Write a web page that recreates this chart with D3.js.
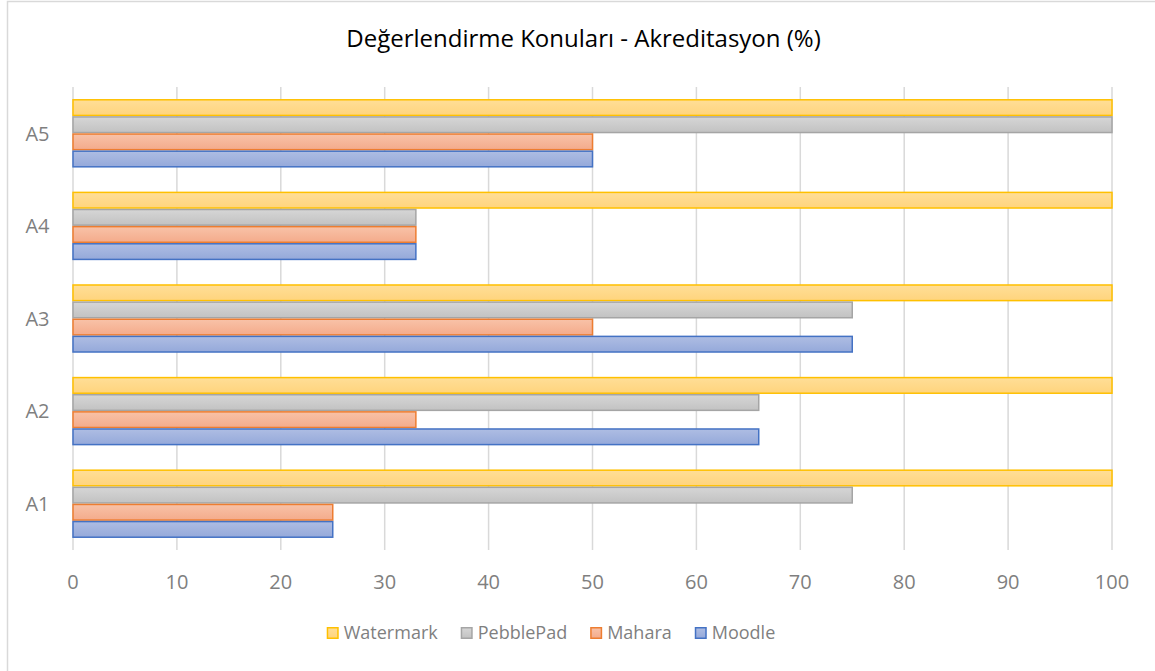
<!DOCTYPE html>
<html>
<head>
<meta charset="utf-8">
<script src="https://cdn.jsdelivr.net/npm/d3@7"></script>
<style>
  html, body { margin: 0; padding: 0; background: #fff; }
  svg { display: block; font-family: "Open Sans", "Noto Sans", sans-serif; }
</style>
</head>
<body>
<div id="chart"></div>
<script>
// Chart data
const categories = ['A1', 'A2', 'A3', 'A4', 'A5'];
const seriesNames = ['Watermark', 'PebblePad', 'Mahara', 'Moodle'];
const watermark = [100, 100, 100, 100, 100];
const pebblePad = [75, 66, 75, 33, 100];
const mahara = [25, 33, 50, 33, 50];
const moodle = [25, 66, 75, 33, 50];
const xTicks = [0, 10, 20, 30, 40, 50, 60, 70, 80, 90, 100];

const seriesValues = [watermark, pebblePad, mahara, moodle];
const palette = [
    { stroke: '#FFC000', top: '#FFDE97', bottom: '#FFD47D' },
    { stroke: '#A5A5A5', top: '#D6D6D6', bottom: '#C2C2C2' },
    { stroke: '#ED7D31', top: '#F8C2A8', bottom: '#F4AB8B' },
    { stroke: '#4472C4', top: '#AEBDE3', bottom: '#95A9DA' }
];

const width = 1155, height = 671;
const margin = { top: 87, right: 43, bottom: 121, left: 73 };
const innerW = width - margin.left - margin.right;
const innerH = height - margin.top - margin.bottom;

const svg = d3.select('#chart').append('svg')
    .attr('width', width)
    .attr('height', height);

// Gradients for the bars
const defs = svg.append('defs');
palette.forEach((p, i) => {
    const g = defs.append('linearGradient')
        .attr('id', 'grad' + i)
        .attr('x1', 0).attr('y1', 0).attr('x2', 0).attr('y2', 1);
    g.append('stop').attr('offset', '0%').attr('stop-color', p.top);
    g.append('stop').attr('offset', '100%').attr('stop-color', p.bottom);
});

// Chart frame (runs off the right and bottom edges)
svg.append('rect')
    .attr('x', 7.5).attr('y', 1.5)
    .attr('width', width + 20).attr('height', height + 20)
    .attr('fill', 'none')
    .attr('stroke', '#D9D9D9')
    .attr('stroke-width', 1.5);

// Title
svg.append('text')
    .attr('x', 583.5)
    .attr('y', 47)
    .attr('text-anchor', 'middle')
    .attr('font-size', 24)
    .attr('fill', '#000')
    .text('Değerlendirme Konuları - Akreditasyon (%)');

const x = d3.scaleLinear().domain([0, 100]).range([0, innerW]);
const y = d3.scaleBand()
    .domain(categories.slice().reverse())
    .range([0, innerH])
    .paddingInner(0.26)
    .paddingOuter(0.13);
const ySub = d3.scaleBand()
    .domain(seriesNames)
    .range([0, y.bandwidth()]);

const g = svg.append('g').attr('transform', `translate(${margin.left},${margin.top})`);

// Vertical gridlines
g.append('g')
    .selectAll('line')
    .data(xTicks)
    .join('line')
    .attr('x1', d => x(d)).attr('x2', d => x(d))
    .attr('y1', 0).attr('y2', innerH)
    .attr('stroke', '#D9D9D9')
    .attr('stroke-width', 1.5);

// Bars
const groups = g.append('g')
    .selectAll('g')
    .data(categories)
    .join('g')
    .attr('transform', d => `translate(0,${y(d)})`);

groups.selectAll('rect')
    .data((c, ci) => seriesNames.map((s, si) => ({ s, si, v: seriesValues[si][ci] })))
    .join('rect')
    .attr('x', 0)
    .attr('y', d => ySub(d.s) + 0.75)
    .attr('width', d => x(d.v))
    .attr('height', ySub.bandwidth() - 1.5)
    .attr('fill', d => `url(#grad${d.si})`)
    .attr('stroke', d => palette[d.si].stroke)
    .attr('stroke-width', 1.5);

// X axis labels
g.append('g')
    .selectAll('text')
    .data(xTicks)
    .join('text')
    .attr('x', d => x(d))
    .attr('y', innerH + 39)
    .attr('text-anchor', 'middle')
    .attr('font-size', 20)
    .attr('fill', '#7F7F7F')
    .text(d => d);

// Y axis labels
g.append('g')
    .selectAll('text')
    .data(categories)
    .join('text')
    .attr('x', -35.5)
    .attr('y', d => y(d) + y.bandwidth() / 2)
    .attr('dy', '0.36em')
    .attr('text-anchor', 'middle')
    .attr('font-size', 20)
    .attr('fill', '#7F7F7F')
    .text(d => d);

// Legend
const legend = svg.append('g').attr('transform', 'translate(0,633)');
const items = legend.selectAll('g')
    .data(seriesNames)
    .join('g');

items.append('rect')
    .attr('x', 0.75).attr('y', -5.25)
    .attr('width', 10.5).attr('height', 10.5)
    .attr('fill', (d, i) => `url(#grad${i})`)
    .attr('stroke', (d, i) => palette[i].stroke)
    .attr('stroke-width', 1.5);

items.append('text')
    .attr('x', 17)
    .attr('dy', '0.36em')
    .attr('font-size', 18)
    .attr('fill', '#7F7F7F')
    .text(d => d);

let widths = [];
items.each(function () {
    widths.push(17 + d3.select(this).select('text').node().getComputedTextLength());
});
const gap = 23;
const total = d3.sum(widths) + gap * (widths.length - 1);
let cursor = (324 + 778) / 2 - total / 2;
items.attr('transform', (d, i) => {
    const t = `translate(${cursor},0)`;
    cursor += widths[i] + gap;
    return t;
});
</script>
</body>
</html>
